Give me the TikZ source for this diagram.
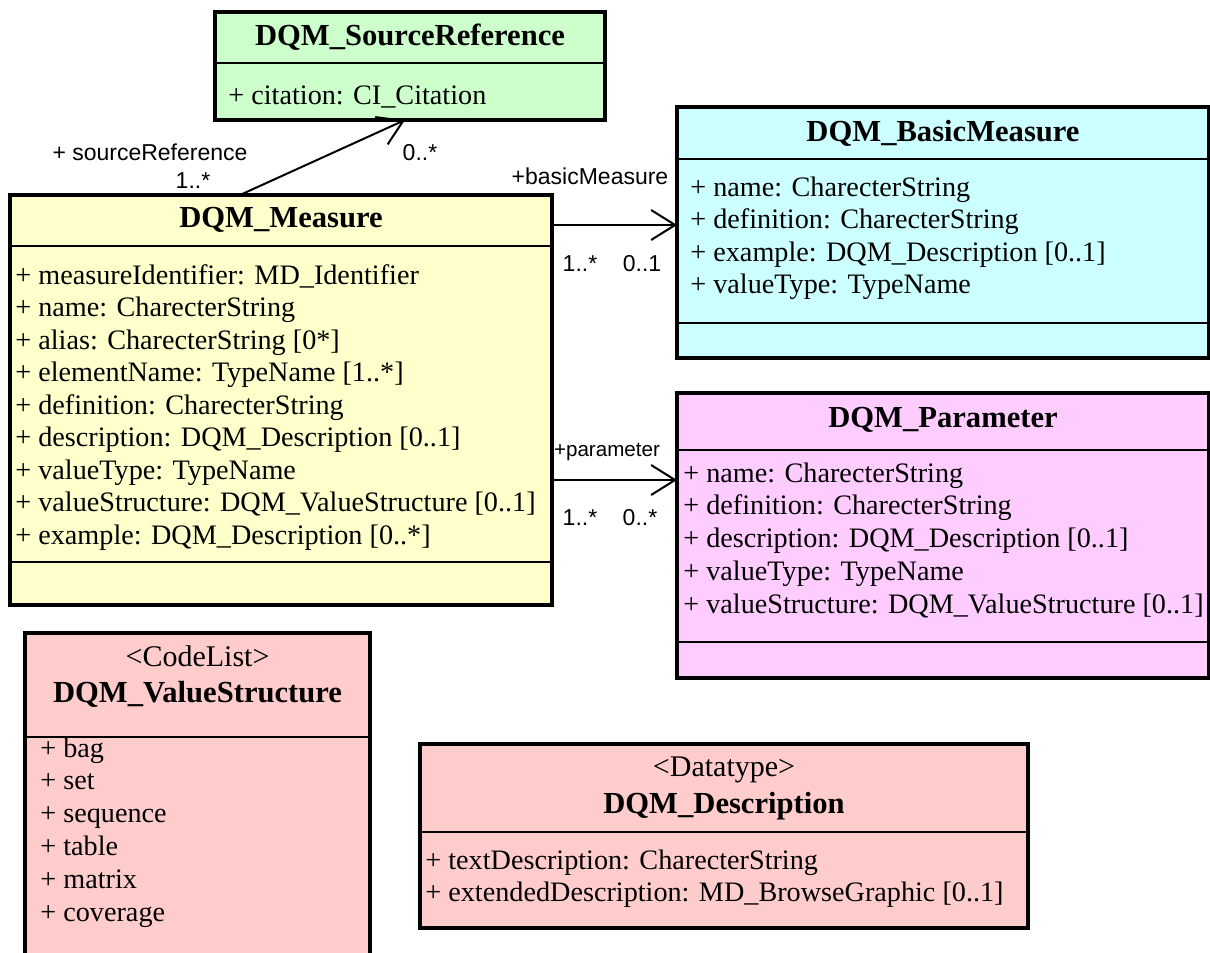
\documentclass[tikz,border=0pt]{standalone}
\usepackage{fontspec}
\setmainfont{Liberation Serif}
\setsansfont{Liberation Sans}
\usepackage{tikz}
\usetikzlibrary{arrows.meta}
\usepackage{xcolor}
\definecolor{SrcGreen}{HTML}{CCFFCC}
\definecolor{MeasYellow}{HTML}{FFFFCC}
\definecolor{BasicCyan}{HTML}{CCFFFF}
\definecolor{ParamPink}{HTML}{FFCCFF}
\definecolor{ListRose}{HTML}{FFCCCC}
\tikzset{
    % Class boxes
    classbox/.style={
        rectangle,
        draw=black,
        line width=1.8pt,
        anchor=north west,
        inner sep=0pt,
        outer sep=0pt
    },
    classname/.style={
        font=\fontsize{15.3}{18}\selectfont\bfseries,
        anchor=base,
        inner sep=0pt
    },
    stereo/.style={
        font=\fontsize{15}{18}\selectfont,
        anchor=base,
        inner sep=0pt
    },
    attr/.style={
        font=\fontsize{14.1}{16}\selectfont,
        anchor=base west,
        inner sep=0pt
    },
    divider/.style={
        line width=1pt
    },
    % Association styles
    assoc/.style={
        -{Straight Barb[length=12pt,width=15pt]},
        line width=1pt
    },
    role/.style={
        font=\sffamily\fontsize{11.5}{13}\selectfont,
        inner sep=0pt
    }
}

\begin{document}
\begin{tikzpicture}[x=0.5pt, y=-0.5pt]
    \useasboundingbox (0,0) rectangle (1210,953);
    \clip (0,0) rectangle (1210,953);

    % Source reference
    \node[classbox, fill=SrcGreen, minimum width=195pt, minimum height=54pt] (source) at (215,12) {};
    \node[classname] (sourceName) at (410,46) {DQM\_SourceReference};
    \draw[divider] (215,63) -- (605,63);
    \node[attr] (sourceAttr) at (228,104) {+ citation: CI\_Citation};

    % Measure
    \node[classbox, fill=MeasYellow, minimum width=271pt, minimum height=205pt] (measure) at (10,195) {};
    \node[classname] (measureName) at (281,227) {DQM\_Measure};
    \draw[divider] (10,246) -- (552,246);
    \foreach \txt [count=\i] in {{+ measureIdentifier: MD\_Identifier},
        {+ name: CharecterString}, {+ alias: CharecterString [0*]},
        {+ elementName: TypeName [1..*]}, {+ definition: CharecterString},
        {+ description: DQM\_Description [0..1]}, {+ valueType: TypeName},
        {+ valueStructure: DQM\_ValueStructure [0..1]},
        {+ example: DQM\_Description [0..*]}}
        \node[attr] (measureAttr\i) at (15,{284+32.5*(\i-1)}) {\txt};
    \draw[divider] (10,562) -- (552,562);

    % Basic measure
    \node[classbox, fill=BasicCyan, minimum width=266pt, minimum height=125.5pt] (basic) at (677,107) {};
    \node[classname] (basicName) at (943,141) {DQM\_BasicMeasure};
    \draw[divider] (677,159) -- (1209,159);
    \foreach \txt [count=\i] in {{+ name: CharecterString},
        {+ definition: CharecterString}, {+ example: DQM\_Description [0..1]},
        {+ valueType: TypeName}}
        \node[attr] (basicAttr\i) at (690,{196+32.5*(\i-1)}) {\txt};
    \draw[divider] (677,323) -- (1209,323);

    % Parameter
    \node[classbox, fill=ParamPink, minimum width=266pt, minimum height=142.5pt] (param) at (677,393) {};
    \node[classname] (paramName) at (943,427) {DQM\_Parameter};
    \draw[divider] (677,450) -- (1209,450);
    \foreach \txt [count=\i] in {{+ name: CharecterString},
        {+ definition: CharecterString}, {+ description: DQM\_Description [0..1]},
        {+ valueType: TypeName}, {+ valueStructure: DQM\_ValueStructure [0..1]}}
        \node[attr] (paramAttr\i) at (683,{482+32.75*(\i-1)}) {\txt};
    \draw[divider] (677,642) -- (1209,642);

    % Value structure
    \node[classbox, fill=ListRose, minimum width=172.5pt, minimum height=180pt] (valstruct) at (25,633) {};
    \node[stereo] (valstructStereo) at (197.5,666) {<CodeList>};
    \node[classname] (valstructName) at (197.5,702) {DQM\_ValueStructure};
    \draw[divider] (25,737) -- (370,737);
    \foreach \txt [count=\i] in {bag, set, sequence, table, matrix, coverage}
        \node[attr] (valstructAttr\i) at (40,{757+32.8*(\i-1)}) {+ \txt};

    % Description
    \node[classbox, fill=ListRose, minimum width=304pt, minimum height=92pt] (descr) at (420,744) {};
    \node[stereo] (descrStereo) at (724,776) {<Datatype>};
    \node[classname] (descrName) at (724,813) {DQM\_Description};
    \draw[divider] (420,832) -- (1028,832);
    \node[attr] (descrAttr1) at (425,869) {+ textDescription: CharecterString};
    \node[attr] (descrAttr2) at (425,901) {+ extendedDescription: MD\_BrowseGraphic [0..1]};

    % Associations
    \draw[assoc] ([xshift=-20.5pt]measure.north) -- ([xshift=-2.5pt]source.south);
    \draw[assoc] ([yshift=-15pt]measure.north east) -- ([yshift=-59pt]basic.north west);
    \draw[assoc] ([yshift=-142.5pt]measure.north east) -- ([yshift=-43.5pt]param.north west);

    % Roles and multiplicities
    \node[role] (srcRole) at (150,152) {+ sourceReference};
    \node[role] (srcMultA) at (193,181) {1..*};
    \node[role] (srcMultB) at (420,153) {0..*};
    \node[role] (basicRole) at (590,176) {+basicMeasure};
    \node[role] (basicMultA) at (580,264) {1..*};
    \node[role] (basicMultB) at (642,264) {0..1};
    \node[role, font=\sffamily\fontsize{10.3}{12}\selectfont] (paramRole) at (607,452) {+parameter};
    \node[role] (paramMultA) at (580,518) {1..*};
    \node[role] (paramMultB) at (640,518) {0..*};
\end{tikzpicture}
\end{document}
